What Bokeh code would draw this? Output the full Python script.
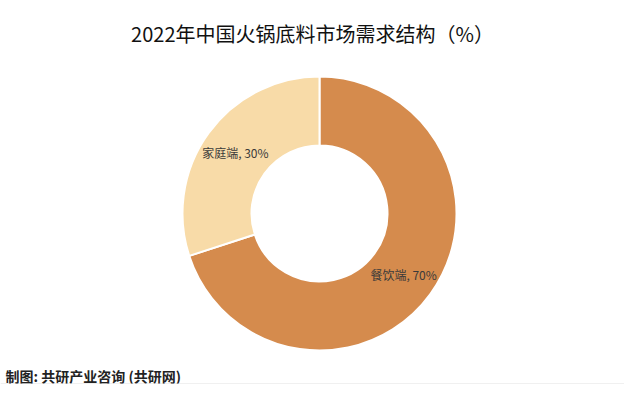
import numpy as np
from bokeh.plotting import figure
from bokeh.models import ColumnDataSource, Range1d, Label, Span
from bokeh.core.properties import value
from bokeh.embed import file_html
from bokeh.resources import INLINE

title_text = "2022年中国火锅底料市场需求结构（%）"
categories = ["餐饮端", "家庭端"]
shares = [70, 30]
colors = ["#D58B4D", "#F8DBA8"]
source_note = "制图: 共研产业咨询 (共研网)"

W, H = 624, 384

vals = np.array(shares, dtype=float)
frac = vals / vals.sum()
cum = np.concatenate([[0.0], np.cumsum(frac)])
start = np.pi / 2 - cum[1:] * 2 * np.pi
end = np.pi / 2 - cum[:-1] * 2 * np.pi
mid = (start + end) / 2

cx, cy = 319, H - 213
r_out, r_in, r_lab = 137, 68, 104

src = ColumnDataSource(dict(
    cat=categories, share=shares, color=colors,
    start=start, end=end,
    x=[cx] * len(categories), y=[cy] * len(categories),
    label=[f"{c}, {v}%" for c, v in zip(categories, shares)],
    xo=list(r_lab * np.cos(mid)), yo=list(-r_lab * np.sin(mid)),
))

p = figure(width=W, height=H, output_backend="svg", toolbar_location=None,
           x_range=Range1d(0, W), y_range=Range1d(0, H), min_border=0)
p.axis.visible = False
p.grid.visible = False
p.outline_line_color = None
p.background_fill_color = "white"
p.border_fill_color = "white"

p.annular_wedge(x="x", y="y", inner_radius=r_in, outer_radius=r_out,
                inner_radius_units="screen", outer_radius_units="screen",
                start_angle="start", end_angle="end", fill_color="color",
                line_color="white", line_width=2, source=src)

p.text(x="x", y="y", text="label", x_offset="xo", y_offset="yo",
       text_align="center", text_baseline="middle",
       text_font=value("Noto Sans CJK SC"), text_font_size="12px",
       text_color="#3a3a3a", source=src)

p.add_layout(Label(x=W / 2, y=H - 33, text=title_text, text_font="Noto Sans CJK SC",
                   text_font_size="20px", text_color="#111111",
                   text_align="center", text_baseline="middle"))

p.add_layout(Label(x=5, y=H - 375, text=source_note, text_font="Noto Sans CJK SC",
                   text_font_size="14px", text_font_style="bold",
                   text_color="#222222", text_baseline="middle"))
p.add_layout(Span(location=0.5, dimension="width", line_color="#e0e0e0", line_width=1))

open("out.html", "w").write(file_html(p, INLINE))
